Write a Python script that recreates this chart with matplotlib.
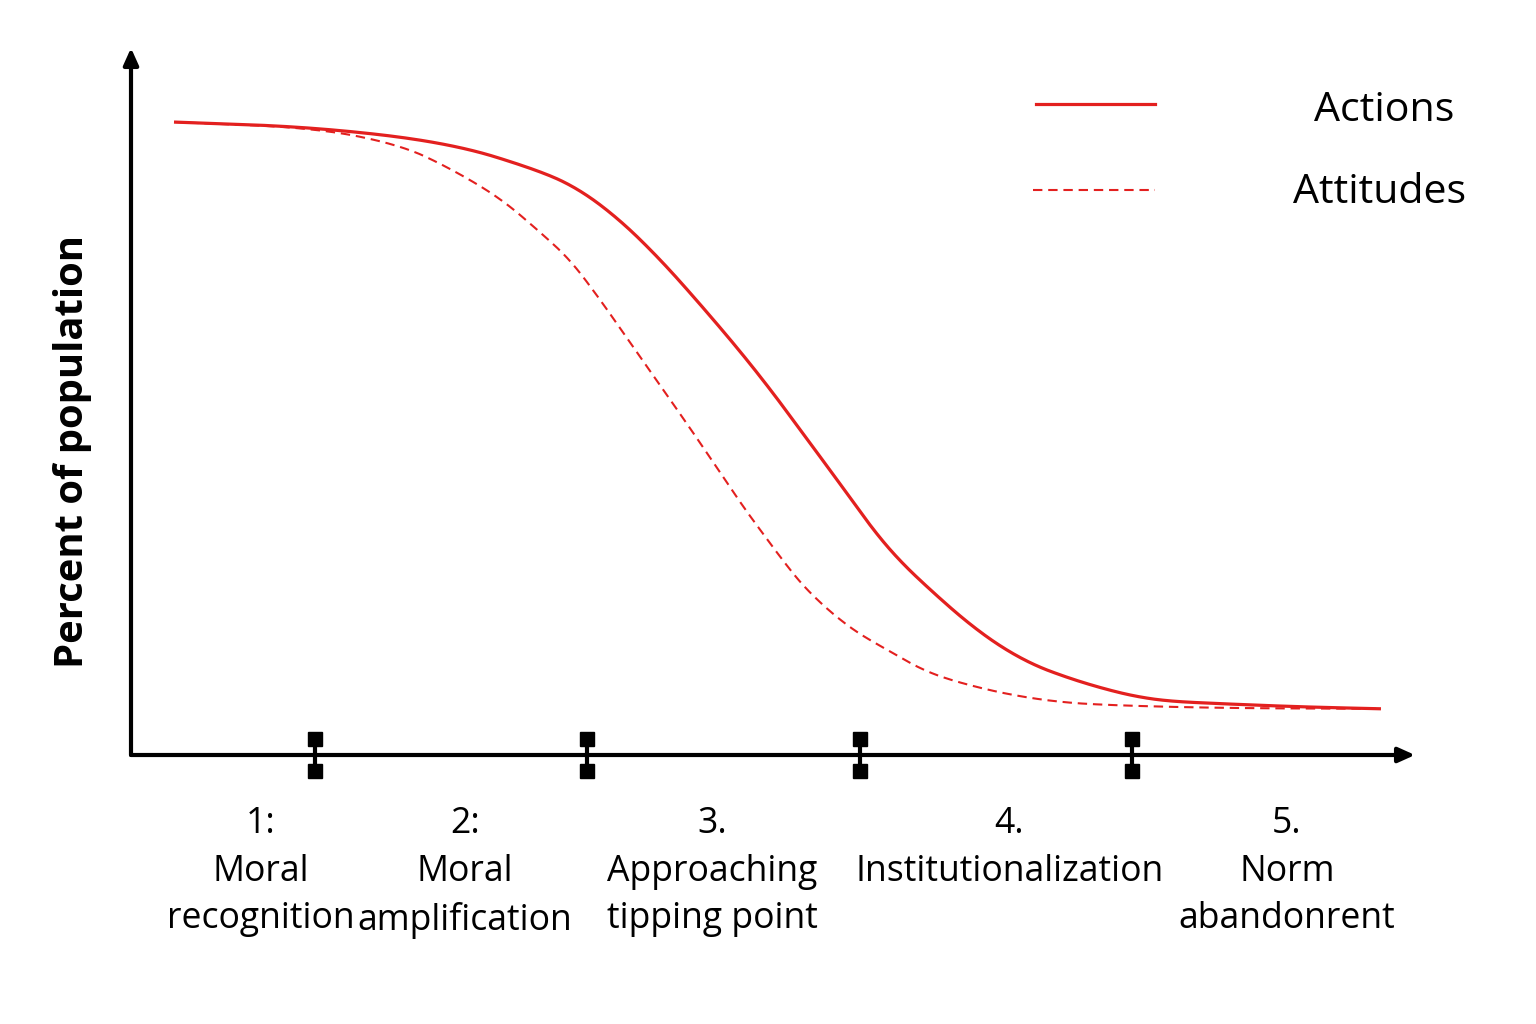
import numpy as np
import matplotlib.pyplot as plt
from matplotlib.lines import Line2D

plt.rcParams['font.family'] = ['Open Sans', 'DejaVu Sans']

# ---------- data (x in stage units, y in percent of the top level) ----------
actions_x = [0.482, 1.000, 1.496, 1.827, 1.974, 2.121, 2.268, 2.415, 2.563, 2.684,
             2.783, 2.919, 3.051, 3.151, 3.272, 3.397, 3.518, 3.640, 3.765, 3.886,
             4.007, 4.132, 4.327, 4.621, 4.915]
actions_y = [100.0, 99.2, 96.7, 92.3, 89.3, 84.5, 78.3, 71.2, 63.7, 57.1,
             51.3, 43.4, 35.5, 30.5, 25.6, 20.9, 17.1, 14.2, 12.2, 10.6,
             9.3, 8.5, 8.1, 7.6, 7.3]

attitudes_x = [0.482, 1.000, 1.313, 1.496, 1.680, 1.827, 1.938, 2.048, 2.158, 2.279,
               2.415, 2.563, 2.636, 2.710, 2.783, 2.857, 2.930, 3.004, 3.114, 3.224,
               3.335, 3.518, 3.702, 3.886, 4.327, 4.915]
attitudes_y = [100.0, 99.1, 96.4, 92.7, 88.0, 82.6, 78.2, 71.9, 65.1, 57.7,
               49.3, 39.8, 35.5, 31.2, 27.2, 24.0, 21.3, 19.0, 16.3, 13.6,
               11.8, 9.8, 8.5, 7.9, 7.4, 7.3]

stage_bounds = [1, 2, 3, 4]
stage_label_x = [0.80, 1.55, 2.46, 3.55, 4.57]
stage_labels = ["1:\nMoral\nrecognition",
                "2:\nMoral\namplification",
                "3.\nApproaching\ntipping point",
                "4.\nInstitutionalization\n",
                "5.\nNorm\nabandonrent"]

RED = '#e3201f'


# ======================================================
# SMOOTH DRAWING (corner cutting on the read points)
# ======================================================
def smooth(xs, ys, n_iter=5):
    p = np.column_stack([xs, ys]).astype(float)
    for _ in range(n_iter):
        q = 0.75 * p[:-1] + 0.25 * p[1:]
        r = 0.25 * p[:-1] + 0.75 * p[1:]
        mid = np.empty((2 * len(q), 2))
        mid[0::2] = q
        mid[1::2] = r
        p = np.vstack([p[:1], mid, p[-1:]])
    return p[:, 0], p[:, 1]


# ======================================================
# FIGURE / AXES
# ======================================================
W, H = 1536, 1024
fig = plt.figure(figsize=(W / 100, H / 100), dpi=100)
ax = fig.add_axes([131 / W, 1 - 755 / H, (1415 - 131) / W, (755 - 48) / H])
ax.set_xlim(0.324, 5.04)
ax.set_ylim(0, 111.7)
ax.axis('off')

# axis arrows
arrow = dict(arrowstyle='-|>,head_length=1.0,head_width=0.45', lw=3, color='black',
             shrinkA=0, shrinkB=0)
ax.annotate('', xy=(0, 1), xytext=(0, 0), xycoords='axes fraction', arrowprops=arrow)
ax.annotate('', xy=(1, 0), xytext=(0, 0), xycoords='axes fraction', arrowprops=arrow)

# ======================================================
# CURVES
# ======================================================
ax.plot(*smooth(actions_x, actions_y), color=RED, lw=2.3, solid_capstyle='butt')
ax.plot(*smooth(attitudes_x, attitudes_y), color=RED, lw=1.5, dashes=(4.5, 2.8))

# stage boundary markers
ax.vlines(stage_bounds, -2.5, 2.5, color='black', lw=3, clip_on=False)
ax.plot(stage_bounds, [2.5] * 4, 's', color='black', ms=10, clip_on=False)
ax.plot(stage_bounds, [-2.5] * 4, 's', color='black', ms=10, clip_on=False)

# stage labels
for x, lab in zip(stage_label_x, stage_labels):
    ax.text(x, -8.0, lab, ha='center', va='top', fontsize=25.6,
            linespacing=1.44, clip_on=False)

# y label
fig.text(73 / W, 1 - 452 / H, "Percent of population", rotation=90,
         ha='center', va='center', fontsize=28.8, fontweight='bold')

# ======================================================
# LEGEND (drawn by hand)
# ======================================================
fig.add_artist(Line2D([1036 / W, 1155 / W], [1 - 104 / H, 1 - 104 / H],
                      color=RED, lw=2.3))
fig.add_artist(Line2D([1033 / W, 1155 / W], [1 - 190 / H, 1 - 190 / H],
                      color=RED, lw=1.5, dashes=(4.5, 2.8)))
fig.text(1384 / W, 1 - 111 / H, "Actions", ha='center', va='center', fontsize=29.6)
fig.text(1380 / W, 1 - 193 / H, "Attitudes", ha='center', va='center', fontsize=29.6)

fig.savefig("out.png", dpi=100, facecolor='white')
